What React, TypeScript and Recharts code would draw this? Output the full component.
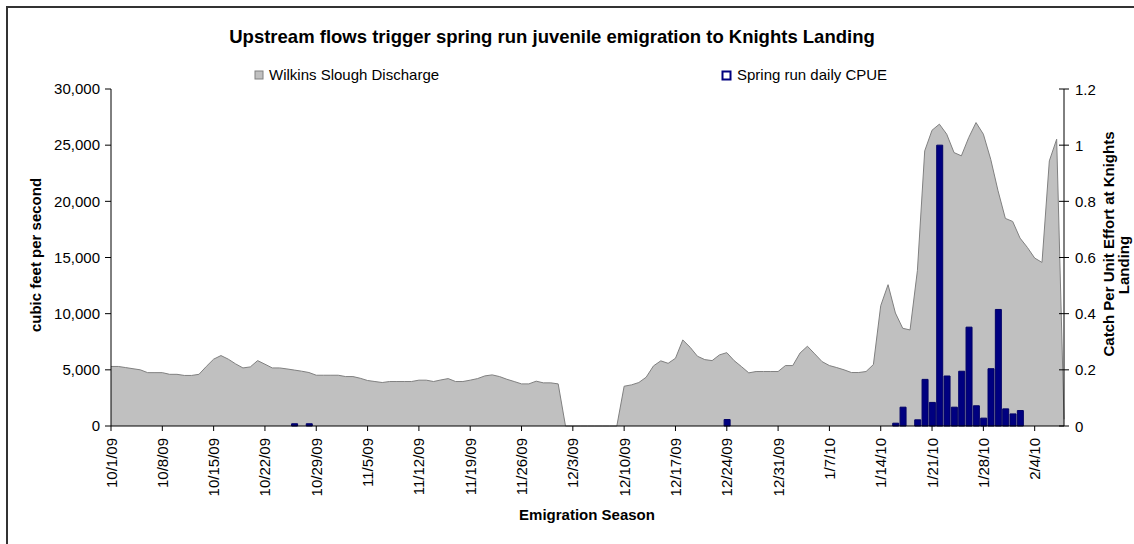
import React from 'react';
import { ComposedChart, Area, Bar, XAxis, YAxis } from 'recharts';

// Daily series start on 10/1/09 (day 0) and run through 2/8/10 (day 130)
const weekTicks = [0, 7, 14, 21, 28, 35, 42, 49, 56, 63, 70, 77, 84, 91, 98, 105, 112, 119, 126];
const weekLabels = [
  '10/1/09', '10/8/09', '10/15/09', '10/22/09', '10/29/09', '11/5/09', '11/12/09',
  '11/19/09', '11/26/09', '12/3/09', '12/10/09', '12/17/09', '12/24/09', '12/31/09',
  '1/7/10', '1/14/10', '1/21/10', '1/28/10', '2/4/10',
];

// Wilkins Slough discharge (cfs), one value per day
const discharge = [
  5300, 5300, 5200, 5100, 5000, 4750, 4750, 4750, 4600, 4600,
  4500, 4500, 4600, 5300, 5950, 6270, 5950, 5530, 5170, 5260,
  5820, 5500, 5170, 5170, 5080, 4980, 4880, 4760, 4520, 4520,
  4520, 4520, 4400, 4400, 4250, 4050, 3960, 3870, 3960, 3960,
  3960, 3960, 4080, 4080, 3960, 4100, 4220, 3960, 3960, 4080,
  4220, 4460, 4550, 4400, 4160, 3960, 3750, 3750, 3990, 3840,
  3840, 3750, 0, 0, 0, 0, 0, 0, 0, 0,
  3540, 3660, 3870, 4340, 5350, 5800, 5580, 6030, 7660, 7010,
  6210, 5910, 5820, 6330, 6530, 5820, 5290, 4730, 4850, 4850,
  4850, 4850, 5380, 5380, 6500, 7100, 6420, 5730, 5380, 5200,
  5000, 4760, 4760, 4850, 5470, 10710, 12580, 10060, 8700, 8550,
  13820, 24490, 26330, 26870, 25980, 24340, 24050, 25670, 27010, 25980,
  23750, 20940, 18480, 18210, 16730, 15900, 14950, 14560, 23600, 25530,
  600,
];

// Spring run daily CPUE, only on days with catch
const cpueDays = [25, 27, 84, 107, 108, 110, 111, 112, 113, 114, 115, 116, 117, 118, 119, 120, 121, 122, 123, 124];
const cpueValues = [
  0.008, 0.008, 0.023, 0.01, 0.067, 0.022, 0.166, 0.084, 1.0, 0.178,
  0.067, 0.195, 0.352, 0.072, 0.028, 0.204, 0.415, 0.061, 0.043, 0.055,
];

const leftTicks = [0, 5000, 10000, 15000, 20000, 25000, 30000];
const rightTicks = [0, 0.2, 0.4, 0.6, 0.8, 1, 1.2];

const data = discharge.map((q, day) => {
  const i = cpueDays.indexOf(day);
  return { day, discharge: q, cpue: i >= 0 ? cpueValues[i] : null };
});

const FONT = '"Liberation Sans", Arial, sans-serif';

const DateTick = ({ x, y, payload }: any) => {
  const i = weekTicks.indexOf(payload.value);
  return (
    <text
      x={x}
      y={y}
      transform={`rotate(-90 ${x} ${y})`}
      textAnchor="end"
      dominantBaseline="central"
      fontSize={15}
      fontFamily={FONT}
      fill="#000"
    >
      {weekLabels[i]}
    </text>
  );
};

const CpueTick = ({ x, y, payload }: any) => {
  const axisX = x - 11;
  return (
    <g>
      <line x1={axisX - 5} x2={axisX + 5} y1={y} y2={y} stroke="#000" />
      <text x={x} y={y} dominantBaseline="central" fontSize={15} fontFamily={FONT} fill="#000">
        {String(payload.value)}
      </text>
    </g>
  );
};

const App = () => {
  return (
    <div
      style={{
        position: 'absolute',
        left: 0,
        top: 0,
        width: 1134,
        height: 544,
        overflow: 'hidden',
        background: '#fff',
      }}
    >
      <ComposedChart width={1134} height={544} data={data} margin={{ top: 89, right: 0, bottom: 0, left: 0 }}>
        <XAxis
          dataKey="day"
          type="number"
          domain={[0, 130]}
          ticks={weekTicks}
          interval={0}
          height={118}
          tickSize={5}
          tickMargin={7}
          stroke="#000"
          tick={<DateTick />}
        />
        <YAxis
          yAxisId="left"
          orientation="left"
          width={111}
          domain={[0, 30000]}
          ticks={leftTicks}
          interval={0}
          tickSize={6}
          tickMargin={5}
          stroke="#000"
          tick={{ fill: '#000', fontSize: 15, fontFamily: FONT }}
          tickFormatter={(v: number) => v.toLocaleString('en-US')}
        />
        <YAxis
          yAxisId="right"
          orientation="right"
          width={70}
          domain={[0, 1.2]}
          ticks={rightTicks}
          interval={0}
          tickSize={5}
          tickMargin={6}
          tickLine={false}
          stroke="#000"
          tick={<CpueTick />}
        />
        <Area
          yAxisId="left"
          type="linear"
          dataKey="discharge"
          fill="#C0C0C0"
          fillOpacity={1}
          stroke="#808080"
          strokeWidth={1}
          dot={false}
          activeDot={false}
          isAnimationActive={false}
        />
        <Bar
          yAxisId="right"
          dataKey="cpue"
          barSize={6}
          fill="#000080"
          stroke="#000066"
          strokeWidth={1}
          isAnimationActive={false}
        />
      </ComposedChart>

      <svg
        width={1134}
        height={544}
        style={{ position: 'absolute', left: 0, top: 0, pointerEvents: 'none' }}
        fontFamily={FONT}
      >
        <rect x={7} y={7} width={1160} height={580} fill="none" stroke="#333" strokeWidth={2} />
        <text x={552} y={43} textAnchor="middle" fontSize={18.5} fontWeight="bold" fill="#000">
          Upstream flows trigger spring run juvenile emigration to Knights Landing
        </text>

        <rect x={255} y={71} width={8} height={8} fill="#C0C0C0" stroke="#808080" />
        <text x={269} y={80} fontSize={15} fill="#000">Wilkins Slough Discharge</text>
        <rect x={722.5} y={71.5} width={8} height={8} fill="#fff" stroke="#000080" strokeWidth={2} />
        <text x={737} y={80} fontSize={15} fill="#000">Spring run daily CPUE</text>

        <text
          x={41}
          y={255}
          transform="rotate(-90 41 255)"
          textAnchor="middle"
          fontSize={15}
          fontWeight="bold"
          fill="#000"
        >
          cubic feet per second
        </text>
        <text
          x={1114}
          y={244}
          transform="rotate(-90 1114 244)"
          textAnchor="middle"
          fontSize={15}
          fontWeight="bold"
          fill="#000"
        >
          Catch Per Unit Effort at Knights
        </text>
        <text
          x={1129}
          y={265}
          transform="rotate(-90 1129 265)"
          textAnchor="middle"
          fontSize={15}
          fontWeight="bold"
          fill="#000"
        >
          Landing
        </text>
        <text x={587} y={520} textAnchor="middle" fontSize={15} fontWeight="bold" fill="#000">
          Emigration Season
        </text>
      </svg>
    </div>
  );
};

export default App;
